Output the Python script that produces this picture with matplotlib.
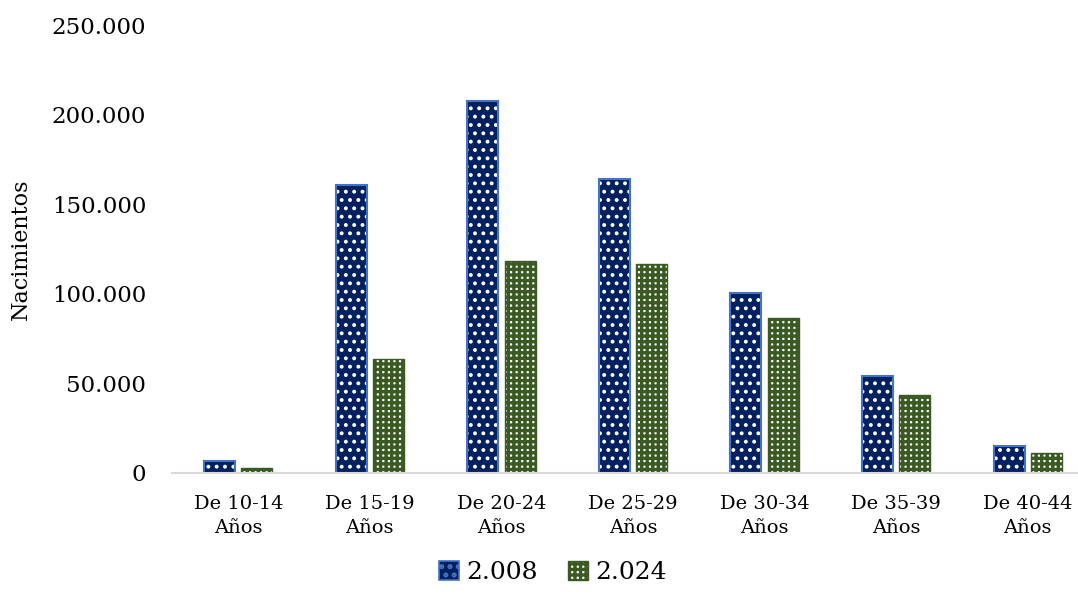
import matplotlib
matplotlib.use("Agg")
import matplotlib.pyplot as plt
import matplotlib.patches as mpatches
from matplotlib.ticker import FuncFormatter, MultipleLocator
import numpy as np

# Nacimientos por grupo de edad de la madre
grupos = ["De 10-14\nAños", "De 15-19\nAños", "De 20-24\nAños", "De 25-29\nAños",
          "De 30-34\nAños", "De 35-39\nAños", "De 40-44\nAños"]
anio_1 = "2.008"
anio_2 = "2.024"
nac_2008 = [6700, 160700, 207600, 164000, 100400, 54100, 15000]
nac_2024 = [2800, 63600, 118300, 116600, 86500, 43500, 11200]

plt.rcParams["font.family"] = ["DejaVu Serif"]

azul = "#002060"
borde_azul = "#4472c4"
verde = "#3b5a23"

fig = plt.figure(figsize=(10.78, 5.96), dpi=100)
ax = fig.add_axes([0.160, 0.2064, 0.84, 0.7516])

x = np.arange(len(grupos))
ancho = 0.236
desp = 0.142

# relleno con trama + contorno por separado para controlar colores
plt.rcParams["hatch.linewidth"] = 1.6
ax.bar(x - desp, nac_2008, ancho, color=azul, edgecolor="white", hatch="..", linewidth=0)
ax.bar(x - desp, nac_2008, ancho, fill=False, edgecolor=borde_azul, linewidth=1.5)
h1 = mpatches.Patch(facecolor=azul, edgecolor=borde_azul, hatch="..", linewidth=1.2)

plt.rcParams["hatch.linewidth"] = 2.4
ax.bar(x + desp, nac_2024, ancho, color="white", edgecolor=verde, hatch="+++", linewidth=0)
ax.bar(x + desp, nac_2024, ancho, fill=False, edgecolor=verde, linewidth=1.0)
h2 = mpatches.Patch(facecolor="white", edgecolor=verde, hatch="+++", linewidth=1.0)

ax.set_xlim(-0.5, 6.382)
ax.set_ylim(0, 250000)
ax.yaxis.set_major_locator(MultipleLocator(50000))
ax.yaxis.set_major_formatter(FuncFormatter(lambda v, p: f"{int(v):,}".replace(",", ".")))
ax.set_xticks(x)
ax.set_xticklabels(grupos, fontsize=14, linespacing=1.4)
ax.tick_params(axis="y", labelsize=16.5, length=0, pad=19)
ax.tick_params(axis="x", length=0, pad=16)

for s in ["top", "right", "left"]:
    ax.spines[s].set_visible(False)
ax.spines["bottom"].set_color("#d9d9d9")
ax.spines["bottom"].set_linewidth(1.5)

ax.set_ylabel("Nacimientos", fontsize=16)
ax.yaxis.set_label_coords(-0.155, 0.5)

fig.legend([h1, h2], [anio_1, anio_2], loc="center", bbox_to_anchor=(0.513, 0.04),
           ncol=2, frameon=False, fontsize=18, handlelength=0.8, handleheight=0.8,
           handletextpad=0.3, columnspacing=1.2)

fig.savefig("out.png", dpi=100)
